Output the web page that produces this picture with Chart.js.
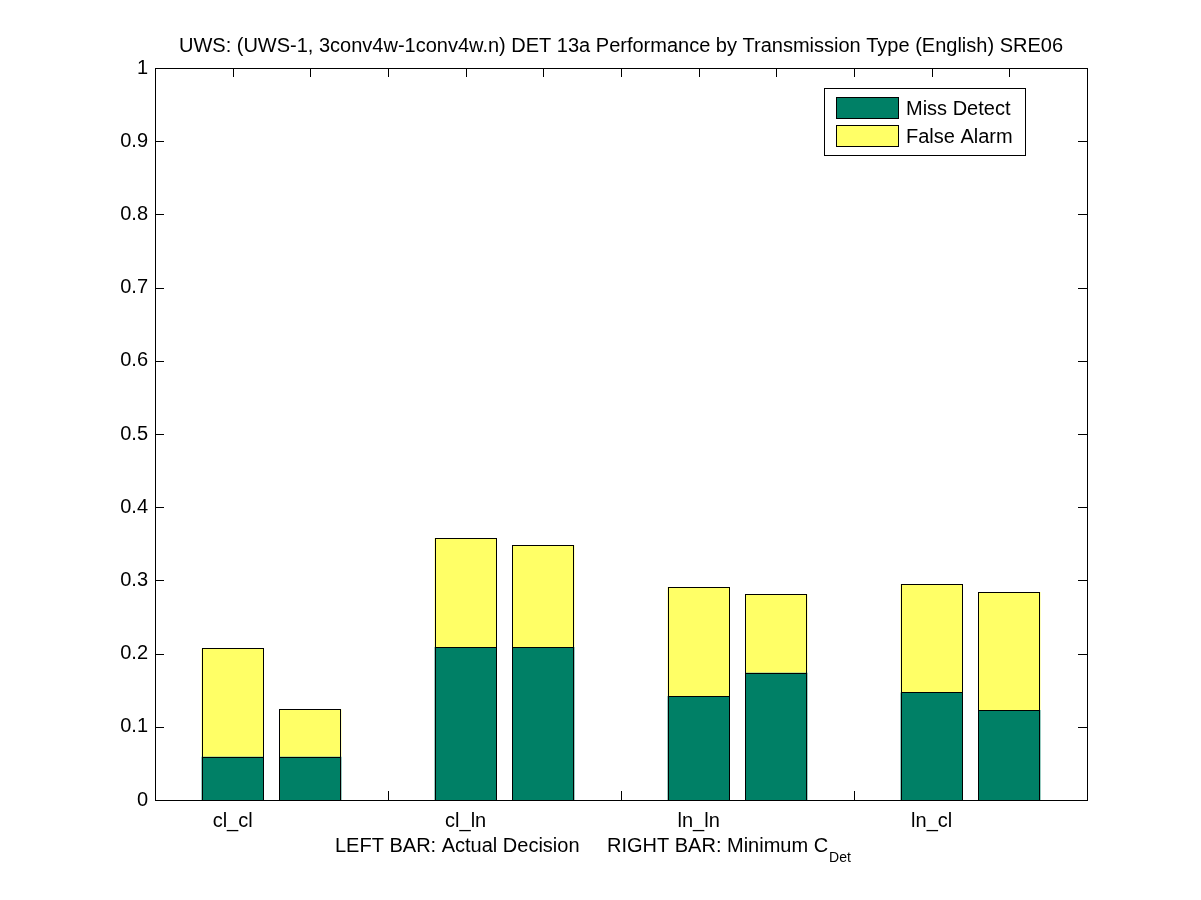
<!DOCTYPE html>
<html>
<head>
<meta charset="utf-8">
<script src="https://cdn.jsdelivr.net/npm/chart.js@4.4.0/dist/chart.umd.min.js"></script>
<style>
html, body { margin: 0; padding: 0; background: #fff; }
#wrap { width: 1201px; height: 900px; }
</style>
</head>
<body>
<div id="wrap"><canvas id="graph"></canvas></div>
<script>
// categories (transmission types), one group of two bars each
const categories = ["cl_cl", "cl_ln", "ln_ln", "ln_cl"];
// left bar = actual decision, right bar = minimum Cdet
const missActual = [0.059, 0.209, 0.142, 0.147];
const missMin    = [0.059, 0.209, 0.174, 0.123];
const faActual   = [0.148, 0.149, 0.149, 0.148];
const faMin      = [0.065, 0.139, 0.107, 0.161];
const yTicks = [0, 0.1, 0.2, 0.3, 0.4, 0.5, 0.6, 0.7, 0.8, 0.9, 1];

const FONT = "'Liberation Sans', Arial, Helvetica, sans-serif";
const GREEN = "rgb(0,128,102)";
const YELLOW = "rgb(255,255,102)";

// x positions: group g at g+1, left bar at -1/6, right bar at +1/6
function pts(left, right) {
  let out = [];
  for (let i = 0; i < categories.length; i++) {
    out.push({ x: i + 1 - 1 / 6, y: left[i] });
    out.push({ x: i + 1 + 1 / 6, y: right[i] });
  }
  return out;
}

// tick positions: every bar centre and between groups
let xTickVals = [];
let xTickText = [];
for (let i = 0; i < categories.length; i++) {
  xTickVals.push(i + 1 - 1 / 6); xTickText.push(categories[i]);
  xTickVals.push(i + 1 + 1 / 6); xTickText.push("");
  if (i < categories.length - 1) { xTickVals.push(i + 1.5); xTickText.push(""); }
}

const boxPlugin = {
  id: "matlabBox",
  beforeDatasetsDraw(chart) {
    const ctx = chart.ctx;
    const a = chart.chartArea;
    const xs = chart.scales.x, ys = chart.scales.y;
    ctx.save();
    ctx.strokeStyle = "#000";
    ctx.lineWidth = 1;
    ctx.beginPath();
    xs.ticks.forEach(t => {
      const px = Math.round(xs.getPixelForValue(t.value)) + 0.5;
      ctx.moveTo(px, a.bottom); ctx.lineTo(px, a.bottom - 9);
      ctx.moveTo(px, a.top); ctx.lineTo(px, a.top + 9);
    });
    ys.ticks.forEach(t => {
      const py = Math.round(ys.getPixelForValue(t.value)) + 0.5;
      ctx.moveTo(a.left, py); ctx.lineTo(a.left + 9, py);
      ctx.moveTo(a.right, py); ctx.lineTo(a.right - 9, py);
    });
    ctx.stroke();
    ctx.restore();
  },
  afterDatasetsDraw(chart) {
    const ctx = chart.ctx;
    const a = chart.chartArea;
    ctx.save();
    ctx.strokeStyle = "#000";
    ctx.lineWidth = 1;

    // crisp outlines on each bar segment, taken from the drawn elements
    chart.data.datasets.forEach((ds, di) => {
      chart.getDatasetMeta(di).data.forEach(el => {
        const l = Math.round(el.x - el.width / 2) + 0.5;
        const r = Math.round(el.x + el.width / 2) - 0.5;
        const t = Math.round(el.y) + 0.5;
        const b = Math.round(el.base) + 0.5;
        ctx.strokeRect(l, t, r - l, b - t);
      });
    });

    ctx.strokeRect(Math.round(a.left) + 0.5, Math.round(a.top) + 0.5,
      Math.round(a.right - a.left), Math.round(a.bottom - a.top));

    // title
    ctx.fillStyle = "#000";
    ctx.font = "20px " + FONT;
    ctx.textAlign = "center";
    ctx.textBaseline = "alphabetic";
    ctx.fillText("UWS: (UWS-1, 3conv4w-1conv4w.n) DET 13a Performance by Transmission Type (English) SRE06",
      (a.left + a.right) / 2, 52);

    // x axis label with subscript
    ctx.textAlign = "left";
    ctx.fillText("LEFT BAR: Actual Decision", 335, 852);
    const s2 = "RIGHT BAR: Minimum C";
    ctx.fillText(s2, 607, 852);
    const w2 = ctx.measureText(s2).width;
    ctx.font = "14px " + FONT;
    ctx.fillText("Det", 607 + w2 + 1, 862);

    // legend
    const lx = 824, ly = 88, lw = 201, lh = 67;
    ctx.fillStyle = "#fff";
    ctx.fillRect(lx, ly, lw, lh);
    ctx.strokeRect(lx + 0.5, ly + 0.5, lw, lh);
    chart.data.datasets.forEach((ds, i) => {
      const sy = 97 + i * 28;
      ctx.fillStyle = ds.backgroundColor;
      ctx.fillRect(836, sy, 62, 21);
      ctx.strokeRect(836.5, sy + 0.5, 62, 21);
      ctx.fillStyle = "#000";
      ctx.font = "20px " + FONT;
      ctx.textBaseline = "middle";
      ctx.fillText(ds.label, 906, sy + 12);
    });
    ctx.restore();
  }
};

new Chart(document.getElementById("graph"), {
  type: "bar",
  data: {
    datasets: [
      {
        label: "Miss Detect",
        data: pts(missActual, missMin),
        backgroundColor: GREEN,
        borderWidth: 0,
        inflateAmount: 0,
        categoryPercentage: 1,
        barPercentage: 0.8
      },
      {
        label: "False Alarm",
        data: pts(faActual, faMin),
        backgroundColor: YELLOW,
        borderWidth: 0,
        inflateAmount: 0,
        categoryPercentage: 1,
        barPercentage: 0.8
      }
    ]
  },
  options: {
    responsive: true,
    maintainAspectRatio: false,
    animation: false,
    events: [],
    layout: { padding: { left: 0, right: 114, top: 68, bottom: 0 } },
    plugins: { legend: { display: false }, title: { display: false }, tooltip: { enabled: false } },
    scales: {
      x: {
        type: "linear",
        min: 0.5,
        max: 4.5,
        offset: false,
        stacked: true,
        grid: { display: false, drawTicks: false, offset: false },
        border: { display: false },
        afterBuildTicks(scale) { scale.ticks = xTickVals.map(v => ({ value: v })); },
        afterFit(scale) { scale.height = 100; },
        ticks: {
          autoSkip: false,
          maxRotation: 0,
          padding: 9,
          color: "#000",
          font: { family: FONT, size: 20 },
          callback: (v, i) => xTickText[i]
        }
      },
      y: {
        min: 0,
        max: 1,
        stacked: true,
        grid: { display: false, drawTicks: false },
        border: { display: false },
        afterBuildTicks(scale) { scale.ticks = yTicks.map(v => ({ value: v })); },
        afterFit(scale) { scale.width = 155; },
        ticks: {
          padding: 7,
          color: "#000",
          font: { family: FONT, size: 20 },
          callback: v => String(v)
        }
      }
    }
  },
  plugins: [boxPlugin]
});
</script>
</body>
</html>
